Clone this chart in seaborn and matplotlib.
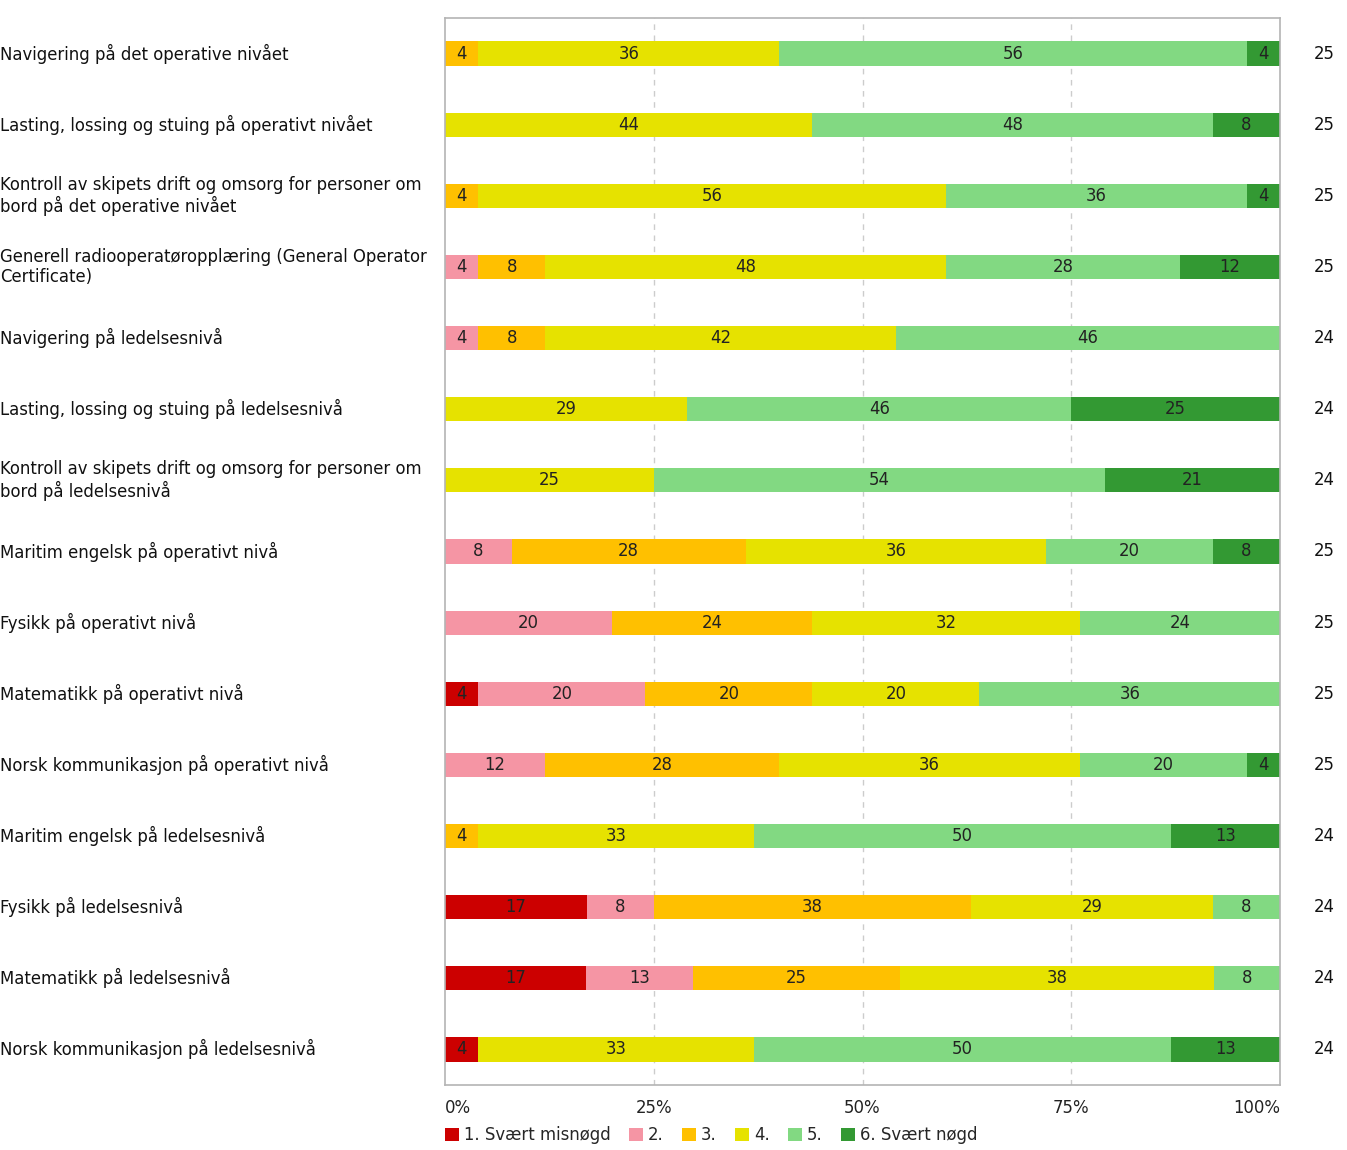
import matplotlib
matplotlib.use("Agg")
import matplotlib.pyplot as plt
import matplotlib.transforms as mtransforms
from matplotlib.patches import Patch
import seaborn as sns
import pandas as pd
import numpy as np

categories = [
    "Navigering på det operative nivået",
    "Lasting, lossing og stuing på operativt nivået",
    "Kontroll av skipets drift og omsorg for personer om\nbord på det operative nivået",
    "Generell radiooperatøropplæring (General Operator\nCertificate)",
    "Navigering på ledelsesnivå",
    "Lasting, lossing og stuing på ledelsesnivå",
    "Kontroll av skipets drift og omsorg for personer om\nbord på ledelsesnivå",
    "Maritim engelsk på operativt nivå",
    "Fysikk på operativt nivå",
    "Matematikk på operativt nivå",
    "Norsk kommunikasjon på operativt nivå",
    "Maritim engelsk på ledelsesnivå",
    "Fysikk på ledelsesnivå",
    "Matematikk på ledelsesnivå",
    "Norsk kommunikasjon på ledelsesnivå",
]

series_names = ["1. Svært misnøgd", "2.", "3.", "4.", "5.", "6. Svært nøgd"]

s1 = [0, 0, 0, 0, 0, 0, 0, 0, 0, 4, 0, 0, 17, 17, 4]
s2 = [0, 0, 0, 4, 4, 0, 0, 8, 20, 20, 12, 0, 8, 13, 0]
s3 = [4, 0, 4, 8, 8, 0, 0, 28, 24, 20, 28, 4, 38, 25, 0]
s4 = [36, 44, 56, 48, 42, 29, 25, 36, 32, 20, 36, 33, 29, 38, 33]
s5 = [56, 48, 36, 28, 46, 46, 54, 20, 24, 36, 20, 50, 8, 8, 50]
s6 = [4, 8, 4, 12, 0, 25, 21, 8, 0, 0, 4, 13, 0, 0, 13]
n_counts = [25, 25, 25, 25, 24, 24, 24, 25, 25, 25, 25, 24, 24, 24, 24]

colors = ["#cc0000", "#f595a4", "#ffc000", "#e6e200", "#82d982", "#339933"]

sns.set_theme(style="white")
plt.rcParams["font.family"] = ["DejaVu Sans"]

series = [s1, s2, s3, s4, s5, s6]
vals = np.array(series, dtype=float)          # 6 x 15
totals = vals.sum(axis=0)
norm = vals / totals * 100.0
cum = np.cumsum(norm, axis=0)

fig = plt.figure(figsize=(13.47, 11.5), dpi=100)
ax = fig.add_axes([445 / 1347, 1 - 1085 / 1150, (1280 - 445) / 1347, (1085 - 18) / 1150])

# draw from widest cumulative to narrowest so segments stack
for k in range(5, -1, -1):
    df = pd.DataFrame({"cat": categories, "cum": cum[k]})
    sns.barplot(data=df, x="cum", y="cat", orient="h", color=colors[k],
                width=0.34, ax=ax, saturation=1, order=categories,
                linewidth=0, edgecolor="none")

ax.set_xlim(0, 100)
ax.set_ylim(len(categories) - 0.5, -0.5)

fs = 11.9
# segment labels
for i in range(len(categories)):
    left = 0.0
    for k in range(6):
        w = norm[k, i]
        if vals[k, i] > 0:
            ax.text(left + w / 2, i, f"{int(vals[k, i])}", ha="center", va="center",
                    fontsize=fs, color="#222222")
        left += w

# category labels at figure left
trans = mtransforms.blended_transform_factory(fig.transFigure, ax.transData)
for i, c in enumerate(categories):
    ax.text(0.0, i, c, transform=trans, ha="left", va="center", fontsize=fs,
            color="#111111", linespacing=1.15)
# n counts right
for i, n in enumerate(n_counts):
    ax.text(1324 / 1347, i, str(n), transform=trans, ha="center", va="center",
            fontsize=fs, color="#111111")

ax.set_yticks([])
ax.set_ylabel("")
ax.set_xlabel("")
ax.set_xticks([0, 25, 50, 75, 100])
ax.set_xticklabels(["0%", "25%", "50%", "75%", "100%"], fontsize=fs, color="#222222")
ax.tick_params(axis="x", length=0, pad=10)
labs = ax.get_xticklabels()
labs[0].set_ha("left")
labs[-1].set_ha("right")

for x in [25, 50, 75]:
    ax.axvline(x, color="#cccccc", lw=1, ls=(0, (4, 4)), zorder=0)
ax.set_axisbelow(True)
for sp in ax.spines.values():
    sp.set_visible(True)
    sp.set_color("#b4b4b4")
    sp.set_linewidth(1.2)

handles = [Patch(facecolor=c, edgecolor="none") for c in colors]
fig.legend(handles, series_names, loc="center left",
           bbox_to_anchor=(445 / 1347, 1 - 1135 / 1150), ncol=6, frameon=False,
           fontsize=fs, handlelength=0.85, handleheight=0.85, handletextpad=0.3,
           columnspacing=1.1, borderaxespad=0, borderpad=0)

fig.savefig("out.png", dpi=100)
